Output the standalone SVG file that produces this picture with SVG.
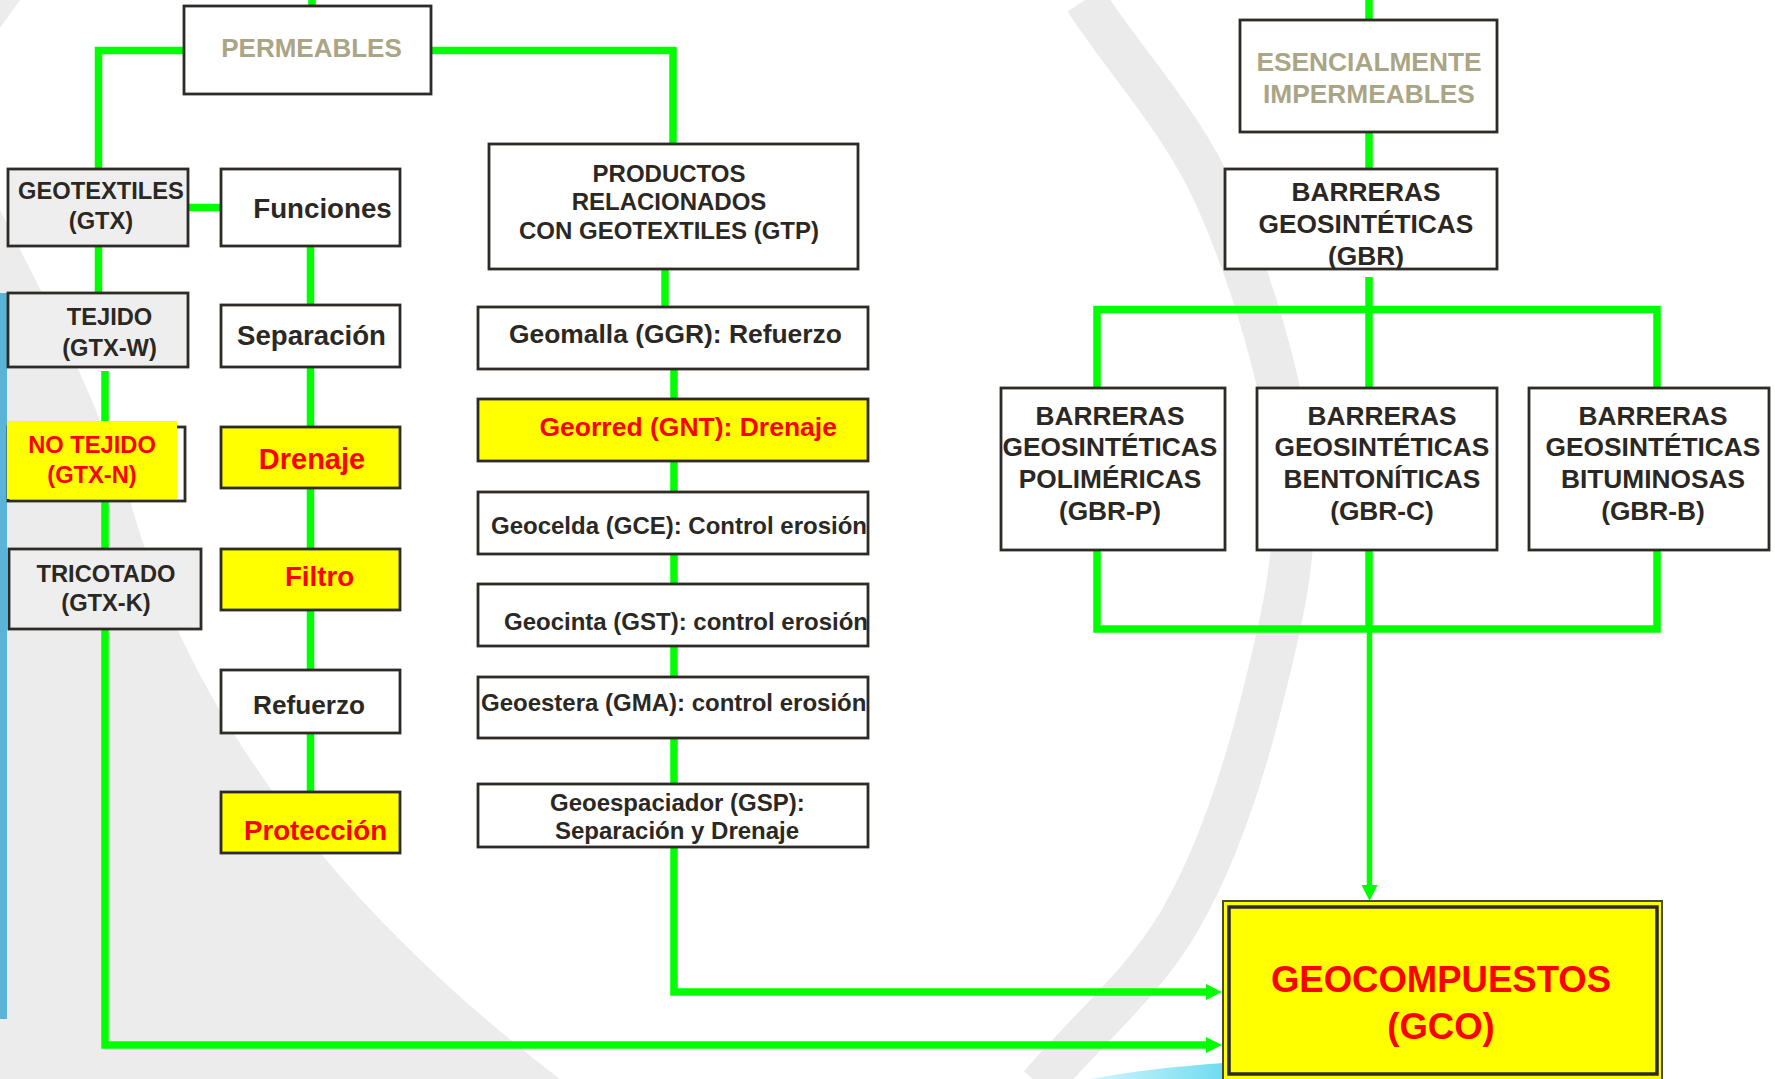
<svg xmlns="http://www.w3.org/2000/svg" width="1775" height="1079" viewBox="0 0 1775 1079">
  <defs>
    <style>
      .box { fill: #ffffff; stroke: #2e2b26; stroke-width: 2.8; }
      .gbox { fill: #eeeeee; stroke: #2e2b26; stroke-width: 2.8; }
      .ybox { fill: #ffff00; stroke: #2e2b26; stroke-width: 2.8; }
      .t { font-family: "Liberation Sans", Arial, sans-serif; font-weight: bold; fill: #2b2824; }
      .tan { fill: #aaa585; }
      .red { fill: #ff0000; }
      .c { text-anchor: middle; }
      .ln { fill: none; stroke: #00ff00; stroke-width: 7.5; stroke-linejoin: miter; stroke-linecap: butt; }
    </style>
    <marker id="arr" viewBox="0 -8 16 16" refX="0" refY="0" markerWidth="16" markerHeight="16" markerUnits="userSpaceOnUse" orient="auto">
      <path d="M0,-8 L16,0 L0,8 Z" fill="#00ff00"/>
    </marker>
    <linearGradient id="cy" x1="0" y1="0" x2="1" y2="0">
      <stop offset="0" stop-color="#d4f6fc"/>
      <stop offset="1" stop-color="#6fdcf0"/>
    </linearGradient>
  </defs>

  <!-- background -->
  <rect x="0" y="0" width="1775" height="1079" fill="#ffffff"/>
  <path d="M0,0 L20,0 L0,28 Z" fill="#ececec"/>
  <path d="M0,210 C30,270 90,380 130,500 C180,680 300,880 560,1079 L0,1079 Z" fill="#ececec"/>
  <path d="M1085,0 C1129,67 1182.5,121.7 1217,200 C1251.5,278.3 1284.5,386.7 1292,470 C1299.5,553.3 1280.7,625 1262,700 C1243.3,775 1217,855.8 1180,920 C1143,984.2 1086.7,1030 1040,1085" fill="none" stroke="#ebebeb" stroke-width="42"/>
  <rect x="0" y="293" width="7" height="726" fill="#5ab4d8"/>
  <path d="M1090,1079 Q1150,1068 1224,1063 L1224,1079 Z" fill="url(#cy)"/>

  <!-- connectors -->
  <g id="connectors">
    <path class="ln" d="M312,0 V6"/>
    <path class="ln" d="M184,50.5 H98.5 V169"/>
    <path class="ln" d="M431,50.5 H673 V144"/>
    <path class="ln" d="M98.5,246 V293"/>
    <path class="ln" d="M188,207.5 H221"/>
    <path class="ln" d="M105,371 V421"/>
    <path class="ln" d="M105,501 V549"/>
    <path class="ln" d="M105,629 V1045 H1206" marker-end="url(#arr)"/>
    <path class="ln" d="M310.5,246 V305"/>
    <path class="ln" d="M310.5,367 V427"/>
    <path class="ln" d="M310.5,488 V549"/>
    <path class="ln" d="M310.5,610 V670"/>
    <path class="ln" d="M310.5,733 V792"/>
    <path class="ln" d="M665,261 V307"/>
    <path class="ln" d="M674,369 V399"/>
    <path class="ln" d="M674,461 V492"/>
    <path class="ln" d="M674,554 V584"/>
    <path class="ln" d="M674,646 V677"/>
    <path class="ln" d="M674,738 V784"/>
    <path class="ln" d="M674,847 V992 H1206" marker-end="url(#arr)"/>
    <path class="ln" d="M1369,0 V20"/>
    <path class="ln" d="M1369,132 V169"/>
    <path class="ln" d="M1369,277 V309.5"/>
    <path class="ln" d="M1097,396 V309.5 H1657 V388"/>
    <path class="ln" d="M1369,309.5 V388"/>
    <path class="ln" d="M1097,550 V629 H1657 V550"/>
    <path class="ln" d="M1369,550 V629"/>
    <path class="ln" d="M1369.5,629 V885" style="stroke-width:5.5" marker-end="url(#arr)"/>
  </g>

  <!-- nodes -->
  <g id="permeables">
    <rect class="box" x="184" y="6" width="247" height="88"/>
    <text class="t tan c" x="311.5" y="57" font-size="26">PERMEABLES</text>
  </g>
  <g id="geotextiles">
    <rect class="gbox" x="8" y="169" width="180" height="77"/>
    <text class="t c" x="101" y="199" font-size="23.7">GEOTEXTILES</text>
    <text class="t c" x="101" y="229" font-size="23.7">(GTX)</text>
  </g>
  <g id="tejido">
    <rect class="gbox" x="8" y="293" width="180" height="74"/>
    <text class="t c" x="109.5" y="325" font-size="23.7">TEJIDO</text>
    <text class="t c" x="109.5" y="356" font-size="23.7">(GTX-W)</text>
  </g>
  <g id="no-tejido">
    <rect class="box" x="8" y="427" width="177" height="74"/>
    <rect x="7" y="421" width="170" height="78" fill="#ffff00"/>
    <text class="t red c" x="92" y="453" font-size="23.7">NO TEJIDO</text>
    <text class="t red c" x="92" y="483" font-size="23.7">(GTX-N)</text>
  </g>
  <g id="tricotado">
    <rect class="gbox" x="9" y="549" width="192" height="80"/>
    <text class="t c" x="106" y="582" font-size="23.7">TRICOTADO</text>
    <text class="t c" x="106" y="611" font-size="23.7">(GTX-K)</text>
  </g>

  <g id="funciones">
    <rect class="box" x="221" y="169" width="179" height="77"/>
    <text class="t c" x="322.5" y="218" font-size="27.7">Funciones</text>
  </g>
  <g id="separacion">
    <rect class="box" x="221" y="305" width="179" height="62"/>
    <text class="t c" x="311.5" y="345" font-size="27.6">Separación</text>
  </g>
  <g id="drenaje">
    <rect class="ybox" x="221" y="427" width="179" height="61"/>
    <text class="t red c" x="312" y="469" font-size="29">Drenaje</text>
  </g>
  <g id="filtro">
    <rect class="ybox" x="221" y="549" width="179" height="61"/>
    <text class="t red c" x="319.5" y="586" font-size="27.7">Filtro</text>
  </g>
  <g id="refuerzo">
    <rect class="box" x="221" y="670" width="179" height="63"/>
    <text class="t c" x="309" y="714" font-size="26.2">Refuerzo</text>
  </g>
  <g id="proteccion">
    <rect class="ybox" x="221" y="792" width="179" height="61"/>
    <text class="t red c" x="315.5" y="840" font-size="27.7">Protección</text>
  </g>

  <g id="productos">
    <rect class="box" x="489" y="144" width="369" height="125"/>
    <text class="t c" x="669" y="182" font-size="24">PRODUCTOS</text>
    <text class="t c" x="669" y="210" font-size="24">RELACIONADOS</text>
    <text class="t c" x="669" y="239" font-size="24">CON GEOTEXTILES (GTP)</text>
  </g>
  <g id="geomalla">
    <rect class="box" x="478" y="307" width="390" height="62"/>
    <text class="t" x="509" y="343" font-size="26.4">Geomalla (GGR): Refuerzo</text>
  </g>
  <g id="georred">
    <rect class="ybox" x="478" y="399" width="390" height="62"/>
    <text class="t red" x="539.5" y="436" font-size="26.5">Georred (GNT): Drenaje</text>
  </g>
  <g id="geocelda">
    <rect class="box" x="478" y="492" width="390" height="62"/>
    <text class="t" x="491" y="534" font-size="24">Geocelda (GCE): Control erosión</text>
  </g>
  <g id="geocinta">
    <rect class="box" x="478" y="584" width="390" height="62"/>
    <text class="t" x="504" y="630" font-size="24">Geocinta (GST): control erosión</text>
  </g>
  <g id="geoestera">
    <rect class="box" x="478" y="677" width="390" height="61"/>
    <text class="t" x="481" y="711" font-size="24">Geoestera (GMA): control erosión</text>
  </g>
  <g id="geoespaciador">
    <rect class="box" x="478" y="784" width="390" height="63"/>
    <text class="t" x="550" y="811" font-size="24">Geoespaciador (GSP):</text>
    <text class="t" x="555" y="839" font-size="24">Separación y Drenaje</text>
  </g>

  <g id="impermeables">
    <rect class="box" x="1240" y="20" width="257" height="112"/>
    <text class="t tan c" x="1369" y="71" font-size="26.3">ESENCIALMENTE</text>
    <text class="t tan c" x="1369" y="103" font-size="26.3">IMPERMEABLES</text>
  </g>
  <g id="gbr">
    <rect class="box" x="1225" y="169" width="272" height="100"/>
    <text class="t c" x="1366" y="201" font-size="26.3">BARRERAS</text>
    <text class="t c" x="1366" y="233" font-size="26.3">GEOSINTÉTICAS</text>
    <text class="t c" x="1366" y="265" font-size="26.3">(GBR)</text>
  </g>
  <g id="gbr-p">
    <rect class="box" x="1001" y="388" width="224" height="162"/>
    <text class="t c" x="1110" y="425" font-size="26.3">BARRERAS</text>
    <text class="t c" x="1110" y="456" font-size="26.3">GEOSINTÉTICAS</text>
    <text class="t c" x="1110" y="488" font-size="26.3">POLIMÉRICAS</text>
    <text class="t c" x="1110" y="520" font-size="26.3">(GBR-P)</text>
  </g>
  <g id="gbr-c">
    <rect class="box" x="1257" y="388" width="240" height="162"/>
    <text class="t c" x="1382" y="425" font-size="26.3">BARRERAS</text>
    <text class="t c" x="1382" y="456" font-size="26.3">GEOSINTÉTICAS</text>
    <text class="t c" x="1382" y="488" font-size="26.3">BENTONÍTICAS</text>
    <text class="t c" x="1382" y="520" font-size="26.3">(GBR-C)</text>
  </g>
  <g id="gbr-b">
    <rect class="box" x="1529" y="388" width="240" height="162"/>
    <text class="t c" x="1653" y="425" font-size="26.3">BARRERAS</text>
    <text class="t c" x="1653" y="456" font-size="26.3">GEOSINTÉTICAS</text>
    <text class="t c" x="1653" y="488" font-size="26.3">BITUMINOSAS</text>
    <text class="t c" x="1653" y="520" font-size="26.3">(GBR-B)</text>
  </g>

  <g id="gco">
    <rect x="1223" y="901" width="439" height="200" fill="#ffff00" stroke="#4a4640" stroke-width="2"/>
    <rect x="1229" y="907" width="428" height="167" fill="#ffff00" stroke="#2e2b26" stroke-width="3.5"/>
    <text class="t red c" x="1441" y="992" font-size="36.5">GEOCOMPUESTOS</text>
    <text class="t red c" x="1441" y="1039" font-size="36.5">(GCO)</text>
  </g>
</svg>
